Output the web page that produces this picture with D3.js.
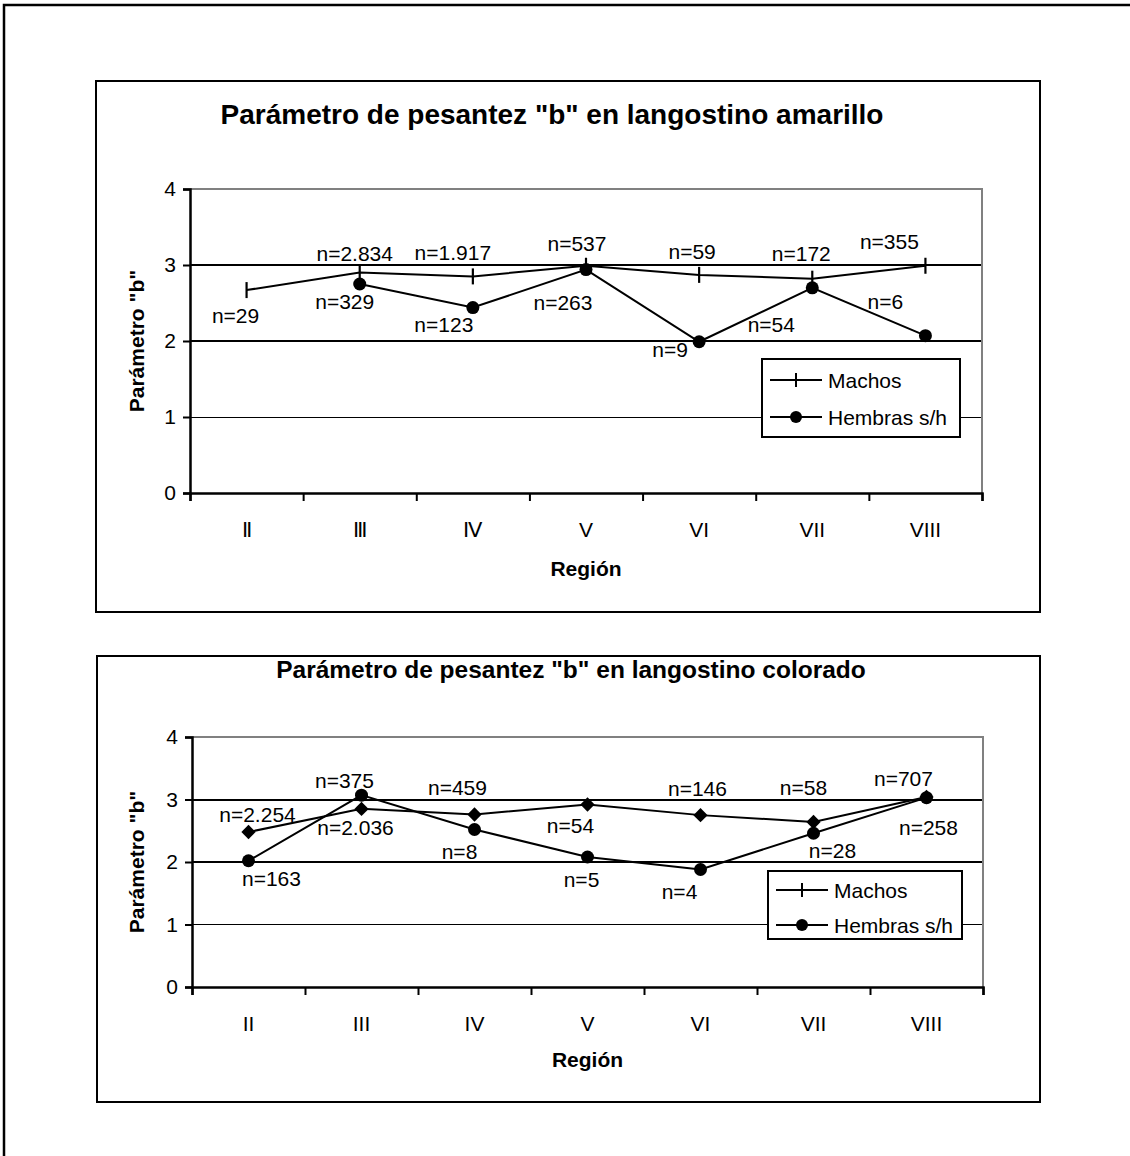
<!DOCTYPE html>
<html>
<head>
<meta charset="utf-8">
<script src="https://cdn.jsdelivr.net/npm/d3@7"></script>
<style>
body { margin: 0; background: #fff; }
text { font-family: "Liberation Sans", Arial, sans-serif; fill: #000; }
</style>
</head>
<body>
<svg width="1130" height="1156"></svg>
<script>
// Values
const regionsAmarillo = ["\u2161", "\u2162", "\u2163", "V", "VI", "VII", "VIII"];
const regionsColorado = ["II", "III", "IV", "V", "VI", "VII", "VIII"];
const yTicks = [0, 1, 2, 3, 4];

const machosAmarillo = [2.67, 2.90, 2.85, 2.99, 2.87, 2.82, 2.99];
const hembrasAmarillo = [null, 2.75, 2.44, 2.94, 1.99, 2.70, 2.07];
const machosAmarilloN = ["n=29", "n=2.834", "n=1.917", "n=537", "n=59", "n=172", "n=355"];
const hembrasAmarilloN = [null, "n=329", "n=123", "n=263", "n=9", "n=54", "n=6"];

const machosColorado = [2.48, 2.85, 2.76, 2.92, 2.75, 2.64, 3.04];
const hembrasColorado = [2.02, 3.07, 2.52, 2.08, 1.88, 2.46, 3.03];
const machosColoradoN = ["n=2.254", "n=2.036", "n=459", "n=54", "n=146", "n=58", "n=707"];
const hembrasColoradoN = ["n=163", "n=375", "n=8", "n=5", "n=4", "n=28", "n=258"];

// label offsets (dx, dy of baseline) from each point, as placed in the picture
const offMachosA = [[-11, 33], [-5, -12], [-20, -16], [-9, -15], [-7, -16], [-11, -18], [-36, -17]];
const offHembrasA = [null, [-15, 25], [-29, 24], [-23, 40], [-29, 15], [-41, 44], [-40, -27]];
const offMachosC = [[9, -10], [-6, 26], [-17, -20], [-17, 28], [-3, -19], [-10, -27], [-23, -11]];
const offHembrasC = [[23, 25], [-17, -7], [-15, 29], [-6, 30], [-21, 29], [19, 25], [2, 37]];

var svg = d3.select("svg");

// outer frame
svg.append("rect")
    .attr("x", 4).attr("y", 5)
    .attr("width", 1300).attr("height", 1300)
    .attr("fill", "none").attr("stroke", "#000").attr("stroke-width", 2.5);

function drawChart(c) {
    var g = svg.append("g");

    g.append("rect")
        .attr("x", c.box[0]).attr("y", c.box[1])
        .attr("width", c.box[2]).attr("height", c.box[3])
        .attr("fill", "#fff").attr("stroke", "#000").attr("stroke-width", 2);

    g.append("text")
        .attr("x", c.titleX).attr("y", c.titleY)
        .attr("text-anchor", "middle")
        .style("font-size", c.titleSize + "px")
        .style("font-weight", "bold")
        .text(c.title);

    var xBand = d3.scaleBand().domain(c.regions).range([c.x0, c.x1]).padding(0);
    var xEdge = d3.scaleLinear().domain([0, c.regions.length]).range([c.x0, c.x1]);
    var y = d3.scaleLinear().domain([0, 4]).range([c.y1, c.y0]);
    var cx = function(i) { return xBand(c.regions[i]) + xBand.bandwidth() / 2; };

    // gridlines
    g.selectAll(".grid")
        .data([1, 2, 3])
        .enter().append("line")
        .attr("x1", c.x0).attr("x2", c.x1)
        .attr("y1", function(d) { return y(d); })
        .attr("y2", function(d) { return y(d); })
        .attr("stroke", "#000")
        .attr("shape-rendering", "crispEdges")
        .attr("stroke-width", function(d) { return d == 1 ? 1 : 2; });

    // grey plot border top and right
    g.append("path")
        .attr("d", "M" + c.x0 + "," + y(4) + "H" + c.x1 + "V" + y(0))
        .attr("fill", "none").attr("stroke", "#808080").attr("stroke-width", 2);

    var yAxis = g.append("g")
        .attr("transform", "translate(" + c.x0 + ",0)")
        .call(d3.axisLeft(y).tickValues(yTicks).tickFormat(d3.format("d")).tickSize(7).tickPadding(7));
    var xAxis = g.append("g")
        .attr("transform", "translate(0," + c.y1 + ")")
        .call(d3.axisBottom(xEdge).ticks(7).tickSize(8).tickFormat(""));
    [yAxis, xAxis].forEach(function(a) {
        a.selectAll("path").attr("stroke", "#000").attr("stroke-width", 2.5);
        a.selectAll("line").attr("stroke", "#000").attr("stroke-width", 2);
        a.selectAll("text").style("font-size", "21px").attr("fill", "#000");
    });

    g.selectAll(".xlab")
        .data(c.regions)
        .enter().append("text")
        .attr("x", function(d, i) { return cx(i); })
        .attr("y", c.xLabelY)
        .attr("text-anchor", "middle")
        .style("font-size", "21px")
        .text(function(d) { return d; });

    g.append("text")
        .attr("x", (c.x0 + c.x1) / 2).attr("y", c.regionY)
        .attr("text-anchor", "middle")
        .style("font-size", "21px").style("font-weight", "bold")
        .text("Región");

    g.append("text")
        .attr("transform", "translate(" + c.yLabelX + "," + ((c.y0 + c.y1) / 2) + ") rotate(-90)")
        .attr("text-anchor", "middle")
        .style("font-size", "21px").style("font-weight", "bold")
        .text('Parámetro "b"');

    var line = d3.line()
        .defined(function(d) { return d != null; })
        .x(function(d, i) { return cx(i); })
        .y(function(d) { return y(d); });

    [c.hembras, c.machos].forEach(function(s) {
        g.append("path")
            .datum(s)
            .attr("d", line)
            .attr("fill", "none").attr("stroke", "#000").attr("stroke-width", 2);
    });

    // machos markers
    c.machos.forEach(function(v, i) {
        if (c.machosMarker == "tick") {
            g.append("line")
                .attr("x1", cx(i)).attr("x2", cx(i))
                .attr("y1", y(v) - 8).attr("y2", y(v) + 8)
                .attr("stroke", "#000").attr("stroke-width", 2.2);
        } else {
            g.append("path")
                .attr("d", d3.symbol(d3.symbolDiamond2, 130)())
                .attr("transform", "translate(" + cx(i) + "," + y(v) + ")")
                .attr("fill", "#000");
        }
    });
    // hembras markers
    c.hembras.forEach(function(v, i) {
        if (v == null) return;
        g.append("circle")
            .attr("cx", cx(i)).attr("cy", y(v)).attr("r", 6.5)
            .attr("fill", "#000");
    });

    // n labels
    [[c.machos, c.machosN, c.offMachos], [c.hembras, c.hembrasN, c.offHembras]].forEach(function(s) {
        s[0].forEach(function(v, i) {
            if (v == null || s[1][i] == null) return;
            g.append("text")
                .attr("x", cx(i) + s[2][i][0])
                .attr("y", y(v) + s[2][i][1])
                .attr("text-anchor", "middle")
                .style("font-size", "21px")
                .text(s[1][i]);
        });
    });

    // legend
    var L = c.legend;
    g.append("rect")
        .attr("x", L.x).attr("y", L.y).attr("width", L.w).attr("height", L.h)
        .attr("fill", "#fff").attr("stroke", "#000").attr("stroke-width", 2);
    var lx0 = L.x + 8, lx1 = L.x + 60, lm = L.x + 34;
    [["Machos", L.r1, "tick"], ["Hembras s/h", L.r2, "dot"]].forEach(function(r) {
        g.append("line")
            .attr("x1", lx0).attr("x2", lx1).attr("y1", r[1]).attr("y2", r[1])
            .attr("stroke", "#000").attr("stroke-width", 2);
        if (r[2] == "tick") {
            g.append("line")
                .attr("x1", lm).attr("x2", lm).attr("y1", r[1] - 7).attr("y2", r[1] + 7)
                .attr("stroke", "#000").attr("stroke-width", 2);
        } else {
            g.append("circle").attr("cx", lm).attr("cy", r[1]).attr("r", 6).attr("fill", "#000");
        }
        g.append("text")
            .attr("x", lx1 + 6).attr("y", r[1] + 7.5)
            .style("font-size", "21px")
            .text(r[0]);
    });
}

drawChart({
    box: [96, 81, 944, 531],
    title: 'Parámetro de pesantez "b" en langostino amarillo',
    titleX: 552, titleY: 124, titleSize: 28,
    regions: regionsAmarillo,
    x0: 190, x1: 982, y0: 189, y1: 493,
    xLabelY: 537, regionY: 576, yLabelX: 144,
    machos: machosAmarillo, hembras: hembrasAmarillo,
    machosN: machosAmarilloN, hembrasN: hembrasAmarilloN,
    offMachos: offMachosA, offHembras: offHembrasA,
    machosMarker: "tick",
    legend: {x: 762, y: 359, w: 198, h: 78, r1: 380, r2: 417}
});

drawChart({
    box: [97, 656, 943, 446],
    title: 'Parámetro de pesantez "b" en langostino colorado',
    titleX: 571, titleY: 678, titleSize: 24.5,
    regions: regionsColorado,
    x0: 192, x1: 983, y0: 737, y1: 987,
    xLabelY: 1031, regionY: 1067, yLabelX: 144,
    machos: machosColorado, hembras: hembrasColorado,
    machosN: machosColoradoN, hembrasN: hembrasColoradoN,
    offMachos: offMachosC, offHembras: offHembrasC,
    machosMarker: "diamond",
    legend: {x: 768, y: 871, w: 194, h: 68, r1: 890, r2: 925}
});
</script>
</body>
</html>
